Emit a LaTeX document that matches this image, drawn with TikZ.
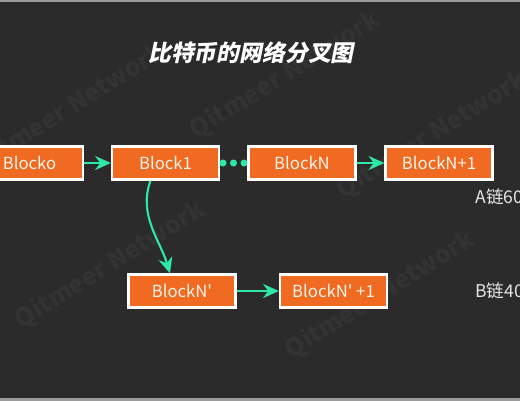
\documentclass[tikz,border=0pt]{standalone}
\usepackage{fontspec}
\setmainfont{Noto Sans CJK SC}
\newfontfamily\titlefont[FakeSlant=0.2]{Noto Sans CJK SC Black}
\usepackage{tikz}
\usetikzlibrary{arrows.meta,positioning,calc}
\definecolor{bgdark}{HTML}{2B2B2B}
\definecolor{blockorange}{HTML}{F06A22}
\definecolor{linkgreen}{HTML}{2EE8A6}
\definecolor{rulegray}{HTML}{9A9A9A}
\definecolor{markgray}{HTML}{333333}
\definecolor{labgray}{HTML}{E6E6E6}
\newcommand{\pr}{\textquotesingle}

\begin{document}
\begin{tikzpicture}[x=0.02cm, y=-0.02cm, >={Stealth[length=9pt,width=8pt]},
  block/.style={draw=white, line width=1.3pt, fill=blockorange, text=white!92!orange, minimum width=2.14cm, minimum height=0.66cm, inner sep=0pt, font=\fontsize{9.5}{11}\selectfont},
  link/.style={->, linkgreen, line width=1.2pt},
  chain/.style={text=labgray, anchor=west, inner sep=0pt, font=\fontsize{10}{12}\selectfont},
  wmark/.style={text=markgray, rotate=32, font=\bfseries\fontsize{14}{16}\selectfont}]
\clip (0,0) rectangle (520,400);
\fill[bgdark] (0,0) rectangle (520,400);
\draw[rulegray, line width=1.5pt] (0,0.5) -- (520,0.5);
\draw[rulegray, line width=1.5pt] (0,399.5) -- (520,399.5);
% watermarks
\node[wmark] (W1) at (70,108) {Qitmeer Network};
\node[wmark] (W2) at (285,75) {Qitmeer Network};
\node[wmark] (W3) at (432,135) {Qitmeer Network};
\node[wmark] (W4) at (110,265) {Qitmeer Network};
\node[wmark] (W5) at (380,295) {Qitmeer Network};
% title
\node[text=white, font=\titlefont\fontsize{13}{16}\selectfont] (T) at (251,53) {比特币的网络分叉图};
% A chain
\node[block] (B0) at (29.5,163) {Blocko};
\node[block] (B1) at (165.5,163) {Block1};
\node[block] (BN) at (302,163) {BlockN};
\node[block] (BN1) at (439,163) {BlockN+1};
% B chain
\node[block] (C0) at (182,291) {BlockN\pr};
\node[block] (C1) at (333.5,291) {BlockN\pr{} +1};
\foreach \i/\x in {1/223,2/233.5,3/244}
  \node[circle, fill=linkgreen, inner sep=0pt, minimum size=0.14cm] (D\i) at (\x,163) {};
\draw[link] (B0) -- (B1);
\draw[link] (BN) -- (BN1);
\draw[link] (C0) -- (C1);
\draw[link] ([xshift=-0.3cm]B1.south) .. controls (138,215) and (160,240) .. ([xshift=-0.24cm]C0.north);
\node[chain] (LA) at (475,197) {A链60\%};
\node[chain] (LB) at (475,291) {B链40\%};
\end{tikzpicture}
\end{document}
